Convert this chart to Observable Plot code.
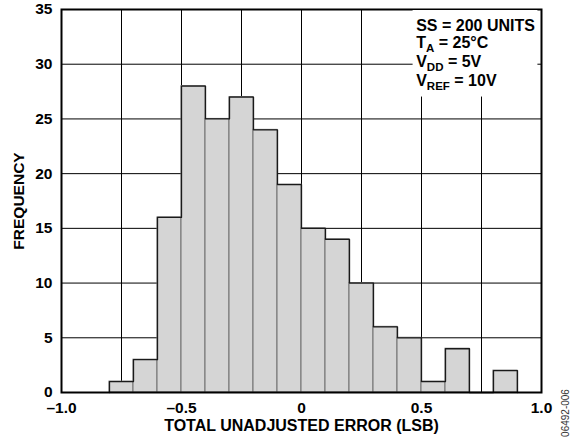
<!DOCTYPE html>
<html>
<head>
<meta charset="utf-8">
<script src="https://cdn.jsdelivr.net/npm/d3@7"></script>
<script src="https://cdn.jsdelivr.net/npm/@observablehq/plot@0.6"></script>
<style>
  html, body { margin: 0; padding: 0; background: #fff; }
  #chart { width: 572px; height: 440px; position: relative; }
</style>
</head>
<body>
<div id="chart"></div>
<script>
// Histogram data: bin edges (LSB) and counts
const binStarts = [-0.8, -0.7, -0.6, -0.5, -0.4, -0.3, -0.2, -0.1, 0.0, 0.1, 0.2, 0.3, 0.4, 0.5, 0.6, 0.7, 0.8];
const binEnds   = [-0.7, -0.6, -0.5, -0.4, -0.3, -0.2, -0.1, 0.0, 0.1, 0.2, 0.3, 0.4, 0.5, 0.6, 0.7, 0.8, 0.9];
const counts    = [1, 3, 16, 28, 25, 27, 24, 19, 15, 14, 10, 6, 5, 1, 4, 0, 2];

const xTickValues = [-1, -0.5, 0, 0.5, 1];
const xGridValues = [-1, -0.75, -0.5, -0.25, 0, 0.25, 0.5, 0.75, 1];
const yTickValues = [0, 5, 10, 15, 20, 25, 30, 35];

const xTitle = "TOTAL UNADJUSTED ERROR (LSB)";
const yTitle = "FREQUENCY";
const noteLines = [
  [["SS = 200 UNITS", false]],
  [["T", false], ["A", true], [" = 25°C", false]],
  [["V", false], ["DD", true], [" = 5V", false]],
  [["V", false], ["REF", true], [" = 10V", false]]
];
const watermark = "06492-006";

const bins = binStarts.map((s, i) => ({x1: s, x2: binEnds[i], y: counts[i]}));
// outline points for step line
const outline = [{x: binStarts[0], y: 0}]
  .concat(bins.map(b => ({x: b.x1, y: b.y})))
  .concat([{x: binEnds[binEnds.length - 1], y: counts[counts.length - 1]},
           {x: binEnds[binEnds.length - 1], y: 0}]);

const FONT = "'Liberation Sans', Arial, Helvetica, sans-serif";
const fmt = d => d === 0 ? "0" : (d < 0 ? "\u2013" : "") + Math.abs(d).toFixed(1);

const plot = Plot.plot({
  width: 572,
  height: 440,
  marginLeft: 61,
  marginRight: 31,
  marginTop: 9,
  marginBottom: 48,
  style: {fontFamily: FONT, fontSize: "15.5px", fontWeight: "bold", color: "#000", background: "#fff", overflow: "visible"},
  x: {domain: [-1, 1]},
  y: {domain: [0, 35]},
  marks: [
    Plot.gridX(xGridValues, {stroke: "#000", strokeOpacity: 1, strokeWidth: 1}),
    Plot.gridY(yTickValues, {stroke: "#000", strokeOpacity: 1, strokeWidth: 1}),
    Plot.rectY(bins, {x1: "x1", x2: "x2", y: "y", fill: "#d5d5d5", stroke: "#707070", strokeWidth: 1}),
    Plot.line(outline, {x: "x", y: "y", curve: "step-after", stroke: "#1a1a1a", strokeWidth: 1.3}),
    Plot.frame({stroke: "#000", strokeWidth: 2}),
    Plot.axisX(xTickValues, {tickSize: 0, tickPadding: 9, tickFormat: fmt, label: null, fontSize: 15.5}),
    Plot.axisY(yTickValues, {tickSize: 0, tickPadding: 9, label: null, fontSize: 15.5}),
    Plot.text([xTitle], {frameAnchor: "bottom", dy: 38, fontSize: 16, fontWeight: "bold", fill: "#000"}),
    Plot.text([yTitle], {frameAnchor: "left", textAnchor: "middle", lineAnchor: "middle", dx: -42, rotate: -90, fontSize: 15.5, fontWeight: "bold", fill: "#000"})
  ]
});

document.getElementById("chart").appendChild(plot);

// annotation box with subscripts, placed through the plot's scales
const xs = plot.scale("x"), ys = plot.scale("y");
const svg = d3.select(plot);
const bx0 = xs.apply(0.465), bx1 = xs.apply(0.985);
const by0 = ys.apply(35), by1 = ys.apply(27.0);
svg.append("rect")
  .attr("x", bx0).attr("y", by0 + 1)
  .attr("width", bx1 - bx0).attr("height", by1 - by0 - 1)
  .attr("fill", "#fff");
const lineBase = [31, 48, 67, 86];
const tx = xs.apply(0.48);
noteLines.forEach((parts, i) => {
  const t = svg.append("text")
    .attr("x", tx).attr("y", lineBase[i])
    .attr("text-anchor", "start")
    .attr("font-family", FONT).attr("font-weight", "bold").attr("font-size", 16)
    .attr("fill", "#000");
  let prevSub = false;
  parts.forEach(([s, sub]) => {
    const ts = t.append("tspan").text(s);
    if (sub) { ts.attr("font-size", 11.5).attr("dy", 4); }
    else if (prevSub) { ts.attr("dy", -4); }
    prevSub = sub;
  });
});

// figure number watermark
svg.append("text")
  .attr("transform", `translate(566, 413) rotate(-90)`)
  .attr("text-anchor", "middle")
  .attr("dominant-baseline", "middle")
  .attr("font-family", FONT).attr("font-weight", "normal").attr("font-size", 10)
  .attr("fill", "#333")
  .text(watermark);
</script>
</body>
</html>
